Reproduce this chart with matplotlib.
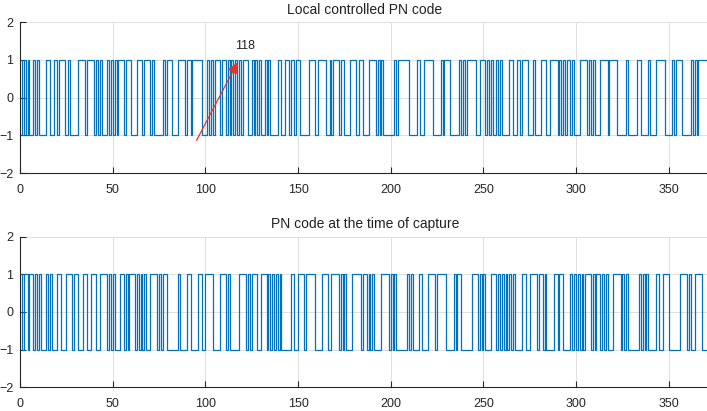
import numpy as np
import matplotlib
matplotlib.use("Agg")
import matplotlib.pyplot as plt

plt.rcParams['font.family'] = ['Liberation Sans', 'DejaVu Sans']

# run lengths of the +1/-1 chips, alternating level, first run at +1
local_runs = [1, 1, 1, 1, 1, 2, 1, 1, 1, 4, 2, 2, 2, 1, 3, 2, 1, 4, 4, 1,
              4, 1, 1, 1, 1, 3, 1, 1, 1, 1, 1, 1, 3, 1, 3, 3, 3, 1, 3, 1,
              1, 5, 1, 1, 3, 3, 4, 1, 2, 1, 5, 3, 1, 1, 1, 1, 3, 1, 2, 1,
              1, 1, 1, 1, 1, 1, 1, 1, 3, 2, 1, 1, 1, 1, 1, 2, 1, 1, 1, 4,
              2, 2, 2, 1, 2, 1, 2, 5, 3, 2, 4, 2, 1, 1, 3, 1, 2, 3, 3, 2,
              2, 3, 4, 1, 1, 1, 1, 6, 1, 1, 6, 4, 2, 2, 5, 4, 1, 1, 3, 5,
              1, 1, 1, 1, 5, 2, 3, 1, 1, 1, 1, 2, 1, 1, 1, 4, 2, 2, 2, 1,
              3, 3, 1, 3, 3, 2, 4, 1, 1, 1, 1, 1, 2, 1, 1, 3, 4, 1, 1, 1,
              1, 3, 4, 1, 4, 5, 1, 5, 2, 4, 1, 3, 5, 4, 1, 1, 3, 5, 1, 1,
              1, 1, 6]
capture_runs = [1, 1, 2, 1, 2, 1, 1, 1, 1, 3, 1, 1, 1, 3, 2, 3, 3, 1, 2, 3,
                2, 2, 3, 2, 4, 1, 1, 1, 1, 3, 2, 1, 1, 1, 3, 1, 1, 1, 1, 1,
                1, 2, 4, 1, 1, 1, 2, 6, 1, 4, 2, 4, 2, 2, 4, 4, 3, 1, 1, 5,
                4, 1, 1, 1, 3, 2, 3, 1, 1, 1, 1, 1, 1, 1, 1, 5, 2, 2, 3, 1,
                5, 4, 3, 2, 4, 1, 1, 1, 1, 3, 5, 1, 2, 1, 1, 1, 1, 4, 4, 1,
                1, 1, 1, 6, 1, 1, 1, 3, 2, 3, 4, 1, 5, 4, 1, 1, 2, 6, 3, 1,
                1, 1, 1, 3, 3, 1, 1, 1, 1, 1, 1, 1, 1, 1, 1, 4, 2, 2, 4, 1,
                2, 1, 1, 4, 2, 1, 2, 4, 1, 1, 1, 1, 1, 1, 1, 1, 3, 1, 1, 1,
                2, 1, 1, 1, 1, 3, 4, 1, 1, 1, 1, 6, 1, 1, 1, 1, 1, 4, 2, 2,
                3, 6, 4, 1, 1, 2, 4, 4, 4]

titles = ["Local controlled PN code", "PN code at the time of capture"]
peak_x, peak_y = 118, 1
arrow_tail = (94.5, -1.2)

x_max = 372
x_ticks = [0, 50, 100, 150, 200, 250, 300, 350]
y_ticks = [-2, -1, 0, 1, 2]


def expand(runs):
    levels = np.where(np.arange(len(runs)) % 2 == 0, 1, -1)
    return np.repeat(levels, runs)


fig = plt.figure(figsize=(7.07, 4.11), dpi=100)
ax1 = fig.add_axes([0.0285, 0.579, 0.975, 0.367])
ax2 = fig.add_axes([0.0285, 0.058, 0.975, 0.366])

for ax, runs, title in zip([ax1, ax2], [local_runs, capture_runs], titles):
    code = expand(runs)
    ax.stairs(code, np.arange(len(code) + 1), baseline=None,
              color='#0072BD', lw=0.9)
    ax.set_xlim(0, x_max)
    ax.set_ylim(-2, 2)
    ax.set_xticks(x_ticks)
    ax.set_yticks(y_ticks)
    ax.grid(True, color='#dedede', lw=0.7)
    ax.set_axisbelow(True)
    ax.spines['top'].set_visible(False)
    ax.spines['right'].set_visible(False)
    ax.tick_params(direction='in', length=4, width=0.8, labelsize=9,
                   colors='#262626')
    ax.tick_params(axis='x', pad=8)
    ax.tick_params(axis='y', pad=5)
    for s in ['left', 'bottom']:
        ax.spines[s].set_linewidth(0.8)
        ax.spines[s].set_color('#262626')
    ax.set_title(title, fontsize=10, pad=6, color='#222222')

ax1.annotate("", xy=(peak_x, peak_y), xytext=arrow_tail,
             arrowprops=dict(arrowstyle='-|>', color='#e3342a', lw=0.9,
                             mutation_scale=16))
ax1.text(peak_x + 3.5, peak_y + 0.22, str(peak_x), fontsize=9,
         ha='center', va='bottom', color='#222222')

fig.savefig("out.png", dpi=100)
